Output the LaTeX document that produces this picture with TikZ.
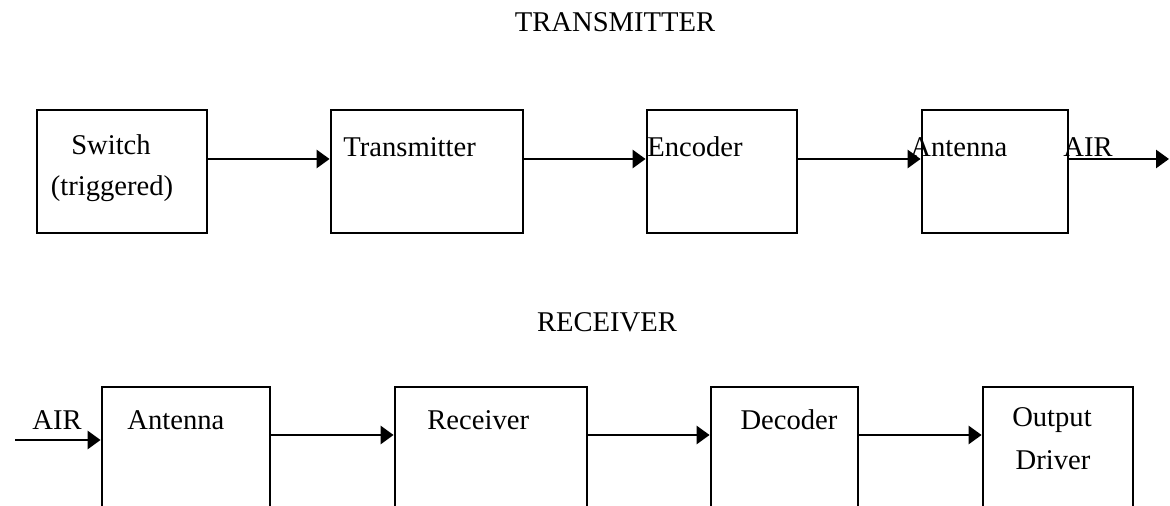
\documentclass[tikz,border=0pt]{standalone}
\usepackage{fontspec}
\setmainfont{Liberation Serif}
\usetikzlibrary{arrows.meta}
\tikzset{
  block/.style={draw, line width=1.4pt, rectangle, inner sep=0pt},
  lbl/.style={inner sep=0pt, font=\fontsize{14.3}{16}\selectfont},
  arr/.style={line width=1.4pt, -{Triangle[length=6.5pt,width=9pt]}}
}
\begin{document}
\begin{tikzpicture}[x=0.5pt,y=-0.5pt]
                \useasboundingbox (0,0) rectangle (1170,506);
                \clip (0,0) rectangle (1170,506);

                % headings
                \node[lbl] (txhead) at (615,22) {TRANSMITTER};
                \node[lbl] (rxhead) at (607,322) {RECEIVER};

                % transmitter blocks
                \node[block, minimum width=85pt, minimum height=61.5pt] (sw) at (122,171.5) {};
                \node[block, minimum width=96pt, minimum height=61.5pt] (tx) at (427,171.5) {};
                \node[block, minimum width=75pt, minimum height=61.5pt] (enc) at (722,171.5) {};
                \node[block, minimum width=73pt, minimum height=61.5pt] (ant) at (995,171.5) {};

                \node[lbl] (swa) at (111,145) {Switch};
                \node[lbl] (swb) at (112,189) {(triggered)};
                \node[lbl, anchor=west] (txt) at (343,147) {Transmitter};
                \node[lbl, anchor=west] (enct) at (647,147) {Encoder};
                \node[lbl, anchor=west] (antt) at (910,147) {Antenna};
                \node[lbl, anchor=west] (airt) at (1063,147) {AIR};

                \coordinate (toprow) at (0,159);
                \coordinate (airout) at (1169,159);
                \draw[arr] (sw.east |- toprow) -- (tx.west |- toprow);
                \draw[arr] (tx.east |- toprow) -- (enc.west |- toprow);
                \draw[arr] (enc.east |- toprow) -- (ant.west |- toprow);
                \draw[arr] (ant.east |- toprow) -- (airout);

                % receiver blocks
                \node[block, minimum width=84pt, minimum height=72pt] (ant2) at (186,459) {};
                \node[block, minimum width=96pt, minimum height=72pt] (rx) at (491,459) {};
                \node[block, minimum width=73.5pt, minimum height=72pt] (dec) at (784.5,459) {};
                \node[block, minimum width=75pt, minimum height=72pt] (out) at (1058,459) {};

                \node[lbl] (airin) at (57,420) {AIR};
                \node[lbl, anchor=west] (ant2t) at (127,420) {Antenna};
                \node[lbl, anchor=west] (rxt) at (427,420) {Receiver};
                \node[lbl] (dect) at (789,420) {Decoder};
                \node[lbl] (outa) at (1052,420) {Output};
                \node[lbl] (outb) at (1053,460) {Driver};

                \coordinate (botrow) at (0,435);
                \coordinate (airsrc) at (15,440);
                \draw[arr] (airsrc) -- (ant2.west |- airsrc);
                \draw[arr] (ant2.east |- botrow) -- (rx.west |- botrow);
                \draw[arr] (rx.east |- botrow) -- (dec.west |- botrow);
                \draw[arr] (dec.east |- botrow) -- (out.west |- botrow);
\end{tikzpicture}
\end{document}
